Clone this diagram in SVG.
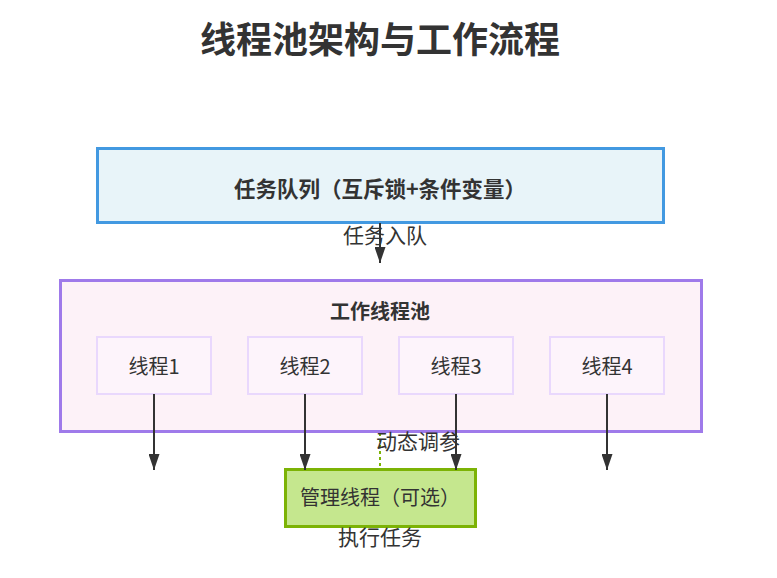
<svg xmlns="http://www.w3.org/2000/svg" width="777" height="578" viewBox="0 0 777 578">
<defs>
<style>
text{font-family:"Noto Sans CJK SC","Liberation Sans",sans-serif;fill:#333;}
.title{font-size:36px;font-weight:bold;}
.bold{font-size:20px;font-weight:bold;}
.qt{font-size:21.5px;font-weight:bold;}
.lbl{font-size:20px;}
.elbl{font-size:21px;}
.thread rect{fill:#fdf4fb;stroke:#e9d8fd;stroke-width:2;}
.arrow{stroke:#333;stroke-width:2;fill:none;marker-end:url(#ah);}
</style>
<marker id="ah" viewBox="0 0 10 10" refX="10" refY="5" markerWidth="16" markerHeight="11" markerUnits="userSpaceOnUse" orient="auto" preserveAspectRatio="none">
<path d="M0,0 L10,5 L0,10 Z" fill="#333"/>
</marker>
</defs>
<rect width="777" height="578" fill="#fff"/>
<text class="title" x="380" y="53" text-anchor="middle">线程池架构与工作流程</text>

<g id="queue">
<rect x="97.5" y="148.5" width="566" height="74" fill="#e8f4f9" stroke="#4299e1" stroke-width="3"/>
<text class="qt" x="380" y="197" text-anchor="middle">任务队列（互斥锁+条件变量）</text>
</g>

<g id="pool">
<rect x="60.5" y="280.5" width="641" height="151" fill="#fdf2f8" stroke="#9f7aea" stroke-width="3"/>
<text class="bold" x="380" y="319" text-anchor="middle">工作线程池</text>
</g>

<g id="thread1" class="thread">
<rect x="97" y="337" width="114" height="57"/>
<text class="lbl" x="154" y="374" text-anchor="middle">线程1</text>
</g>
<g id="thread2" class="thread">
<rect x="248" y="337" width="114" height="57"/>
<text class="lbl" x="305" y="374" text-anchor="middle">线程2</text>
</g>
<g id="thread3" class="thread">
<rect x="399" y="337" width="114" height="57"/>
<text class="lbl" x="456" y="374" text-anchor="middle">线程3</text>
</g>
<g id="thread4" class="thread">
<rect x="550" y="337" width="114" height="57"/>
<text class="lbl" x="607" y="374" text-anchor="middle">线程4</text>
</g>

<g id="manager">
<rect x="285.5" y="469.5" width="190" height="57" fill="#c5e78e" stroke="#7cb305" stroke-width="3"/>
<text class="lbl" x="380" y="505" text-anchor="middle" font-size="20.5">管理线程（可选）</text>
</g>

<g id="connectors">
<line class="arrow" x1="380" y1="223" x2="380" y2="263"/>
<text class="elbl" x="385" y="243" text-anchor="middle">任务入队</text>
<line class="arrow" x1="154" y1="394" x2="154" y2="470"/>
<line class="arrow" x1="305" y1="394" x2="305" y2="470"/>
<line class="arrow" x1="456" y1="394" x2="456" y2="470"/>
<line class="arrow" x1="607" y1="394" x2="607" y2="470"/>
<line x1="380" y1="433" x2="380" y2="468" stroke="#7cb305" stroke-width="2" stroke-dasharray="3,3"/>
<text class="elbl" x="418" y="449" text-anchor="middle">动态调参</text>
<text class="elbl" x="380" y="545" text-anchor="middle">执行任务</text>
</g>
</svg>
